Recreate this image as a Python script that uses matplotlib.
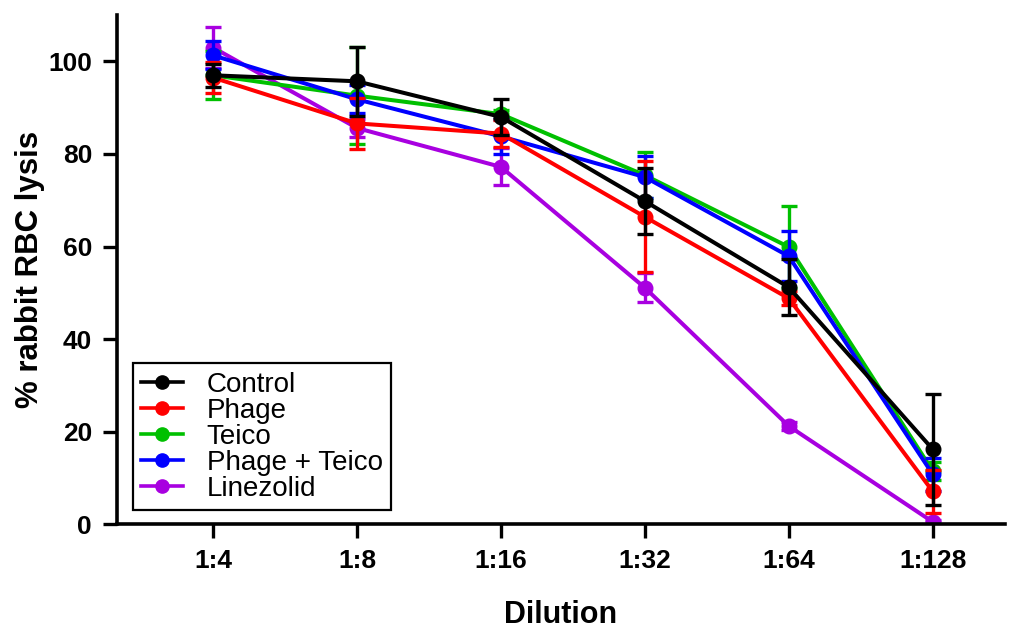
import matplotlib
matplotlib.use("Agg")
import matplotlib.pyplot as plt
from matplotlib.lines import Line2D
import numpy as np

categories = ["1:4", "1:8", "1:16", "1:32", "1:64", "1:128"]
series_names = ["Control", "Phage", "Teico", "Phage + Teico", "Linezolid"]
control = [97.0, 95.7, 88.0, 69.8, 51.2, 16.2]
control_err = [2.5, 7.5, 3.8, 7.2, 6.0, 12.0]
phage = [96.5, 86.6, 84.4, 66.4, 48.8, 7.1]
phage_err = [3.4, 5.5, 3.0, 12.0, 1.5, 4.6]
teico = [97.0, 92.6, 88.6, 75.4, 59.9, 11.5]
teico_err = [5.2, 10.5, 1.0, 5.0, 8.8, 2.0]
phage_teico = [101.3, 91.8, 83.8, 75.0, 57.9, 10.8]
phage_teico_err = [3.0, 3.0, 3.8, 4.5, 5.4, 3.6]
linezolid = [103.0, 85.6, 77.2, 51.1, 21.2, 0.5]
linezolid_err = [4.4, 2.0, 4.0, 3.2, 0.8, 0.5]

colors = {"Control": "#000000", "Phage": "#FF0000", "Teico": "#00C000",
          "Phage + Teico": "#0000FF", "Linezolid": "#A800E0"}
zorders = {"Control": 6, "Phage": 5, "Teico": 3, "Phage + Teico": 4, "Linezolid": 2}
data = {"Control": (control, control_err), "Phage": (phage, phage_err),
        "Teico": (teico, teico_err), "Phage + Teico": (phage_teico, phage_teico_err),
        "Linezolid": (linezolid, linezolid_err)}

plt.rcParams['font.family'] = ['Liberation Sans', 'DejaVu Sans']

fig = plt.figure(figsize=(10.22, 6.3), dpi=100)
ax = fig.add_axes([0.1145, 0.168, 0.8685, 0.808])

x = np.arange(len(categories))
handles = []
for name in series_names:
    vals, err = data[name]
    c = colors[name]
    ax.errorbar(x, vals, yerr=err, color=c, lw=2.9, marker='o', ms=10.5,
                capsize=6, capthick=2.4, elinewidth=2.4, zorder=zorders[name])
    handles.append(Line2D([], [], color=c, lw=2.6, marker='o', ms=9.5))

ax.set_xlim(-0.667, 5.5)
ax.set_ylim(0, 110)
ax.set_xticks(x)
ax.set_xticklabels(categories, fontsize=19, fontweight='bold')
ax.set_yticks([0, 20, 40, 60, 80, 100])
ax.set_yticklabels(["0", "20", "40", "60", "80", "100"], fontsize=19, fontweight='bold')
ax.tick_params(axis='both', direction='out', length=10, width=2.4, pad=8)
for s in ['top', 'right']:
    ax.spines[s].set_visible(False)
for s in ['left', 'bottom']:
    ax.spines[s].set_linewidth(2.6)

ax.set_xlabel("Dilution", fontsize=22, fontweight='bold', labelpad=19)
ax.set_ylabel("% rabbit RBC lysis", fontsize=22.5, fontweight='bold', labelpad=2)

leg = ax.legend(handles=handles, labels=series_names, loc='lower left',
                bbox_to_anchor=(0.018, 0.0275), borderaxespad=0, fontsize=20,
                frameon=True, fancybox=False, edgecolor='black', framealpha=1,
                handlelength=1.5, handletextpad=0.85, labelspacing=0.0,
                borderpad=0.3)
leg.get_frame().set_linewidth(1.6)

fig.savefig("out.png", dpi=100)
